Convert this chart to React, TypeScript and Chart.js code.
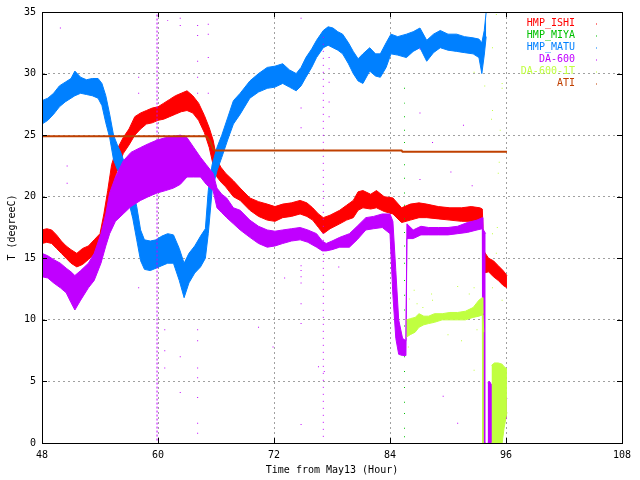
import { useEffect, useRef } from 'react'
import { Chart, registerables } from 'chart.js'

Chart.register(...registerables)

const seriesNames = ['HMP_ISHI', 'HMP_MIYA', 'HMP_MATU', 'DA-600', 'DA-600-1T', 'ATI']
const seriesColors = ['#ff0000', '#00c000', '#0080ff', '#c000ff', '#c0ff40', '#c04000']

const xTicks = [48, 60, 72, 84, 96, 108]
const yTicks = [0, 5, 10, 15, 20, 25, 30, 35]

// HMP_ISHI: noisy band, low / high edge per hour
const ishiHours = [48, 48.5, 49, 49.5, 50, 50.5, 51, 51.6, 52.2, 52.8, 53.4, 54, 54.4, 54.8, 55.2, 55.6, 56, 56.4, 57, 57.6, 58.2, 58.8, 59.4, 60, 60.6, 61.2, 61.8, 62.4, 63, 63.6, 64.2, 64.8, 65.3, 65.7, 66.1, 66.5, 67, 67.8, 68.5, 69.5, 70.4, 71.3, 72.1, 72.9, 73.8, 74.7, 75.4, 76, 76.6, 77.1, 77.8, 78.8, 79.5, 80.2, 80.7, 81.2, 82, 82.6, 83.4, 84.3, 85.2, 86.1, 87, 87.8, 89, 90.2, 91.4, 92.4, 93.3, 93.55, 93.7, 94.2, 94.7, 95.2, 95.7, 96.1]
const ishiLow = [16.2, 16.3, 16.2, 15.8, 15.4, 15.0, 14.6, 14.3, 14.5, 14.9, 15.3, 15.9, 17.0, 18.5, 20.3, 21.7, 22.6, 23.5, 24.2, 25.0, 25.5, 25.9, 26.0, 26.2, 26.3, 26.5, 26.7, 26.9, 27.0, 26.8, 26.2, 25.2, 24.0, 22.6, 21.6, 21.2, 20.8, 20.0, 19.7, 18.9, 18.4, 18.1, 18.0, 18.3, 18.4, 18.6, 18.4, 18.1, 17.5, 17.0, 17.4, 17.8, 18.1, 18.3, 18.9, 19.1, 19.0, 19.1, 18.8, 18.6, 17.9, 18.1, 18.3, 18.3, 18.2, 18.1, 18.0, 18.0, 17.9, 17.9, 13.8, 13.9, 13.5, 13.2, 12.8, 12.6]
const ishiHigh = [17.3, 17.4, 17.3, 16.9, 16.4, 16.0, 15.7, 15.4, 15.8, 16.0, 16.5, 17.0, 18.6, 20.5, 22.6, 23.6, 24.2, 24.8, 25.5, 26.5, 26.8, 27.0, 27.2, 27.3, 27.6, 27.9, 28.2, 28.4, 28.6, 28.2, 27.6, 26.6, 25.6, 24.6, 23.0, 22.4, 21.9, 21.3, 20.7, 19.9, 19.6, 19.4, 19.2, 19.4, 19.5, 19.7, 19.5, 19.1, 18.6, 18.3, 18.5, 18.9, 19.3, 19.7, 20.4, 20.5, 20.2, 20.5, 20.0, 19.9, 19.1, 19.4, 19.5, 19.4, 19.2, 19.1, 19.1, 19.2, 19.1, 19.0, 15.6, 15.0, 14.8, 14.4, 14.0, 13.6]

// HMP_MATU band
const matuHours = [48, 48.6, 49.2, 49.8, 50.4, 51, 51.4, 52, 52.6, 53.2, 53.8, 54.2, 54.6, 55, 55.4, 55.8, 56.2, 56.6, 57, 57.4, 57.8, 58.2, 58.6, 59.2, 59.8, 60.4, 61, 61.6, 62.2, 62.7, 63.2, 63.8, 64.4, 64.9, 65.2, 65.6, 66.1, 66.6, 67.2, 67.8, 68.5, 69.5, 70.4, 71.3, 72.1, 72.9, 73.6, 74.3, 74.8, 75.3, 75.9, 76.4, 77.1, 77.6, 78.1, 78.6, 79.1, 79.7, 80.2, 80.7, 81.2, 81.9, 82.5, 83, 83.6, 84.1, 84.8, 85.7, 86.4, 87.1, 87.8, 88.5, 89.2, 90, 90.9, 91.7, 92.6, 93.2, 93.5, 93.75, 93.95]
const matuLow = [25.9, 26.2, 26.7, 27.3, 27.7, 28.0, 28.2, 28.4, 28.3, 28.2, 28.0, 27.4, 26.0, 24.8, 23.0, 22.2, 21.6, 20.6, 19.5, 18.2, 16.5, 14.8, 14.1, 14.0, 14.2, 14.4, 14.6, 14.6, 13.2, 11.8, 13.0, 13.8, 14.3, 15.0, 17.0, 20.5, 22.1, 23.2, 24.6, 25.9, 26.7, 28.0, 28.5, 28.8, 28.9, 29.2, 28.9, 28.6, 29.0, 29.7, 30.5, 31.3, 32.1, 32.3, 32.1, 31.9, 31.6, 30.8, 30.0, 29.4, 29.2, 30.2, 29.8, 29.7, 30.5, 31.6, 31.5, 31.3, 31.8, 32.1, 31.0, 31.7, 32.1, 31.9, 31.8, 31.7, 31.6, 31.3, 30.0, 31.5, 33.0]
const matuHigh = [27.8, 28.0, 28.4, 29.0, 29.3, 29.6, 30.2, 29.7, 29.5, 29.6, 29.6, 29.2, 28.2, 26.7, 25.0, 24.2, 23.5, 22.6, 21.5, 20.6, 19.2, 17.3, 16.5, 16.4, 16.5, 16.8, 17.0, 16.9, 15.8, 14.6, 15.4, 16.0, 16.8, 17.4, 20.5, 22.6, 24.0, 25.0, 26.4, 27.8, 28.4, 29.4, 30.0, 30.5, 30.6, 30.8, 30.3, 30.0, 30.5, 31.3, 32.0, 32.7, 33.5, 33.8, 33.7, 33.4, 33.2, 32.5, 31.8, 31.2, 31.6, 32.1, 31.6, 31.6, 32.5, 33.2, 33.0, 33.2, 33.4, 33.7, 32.7, 33.2, 33.5, 33.2, 33.2, 33.0, 32.9, 32.8, 32.5, 33.5, 35.0]

// DA-600 band, up to the fall near hour 93.6
const da600Hours = [48, 48.6, 49.2, 49.9, 50.5, 51, 51.4, 52, 52.8, 53.4, 54.1, 54.6, 55, 55.6, 56.4, 57.2, 58.2, 59, 59.9, 60.8, 61.6, 62.3, 63, 63.7, 64.4, 65, 65.7, 66.1, 66.6, 67.1, 67.8, 68.5, 69.5, 70.4, 71.3, 72.1, 72.9, 73.8, 74.7, 75.5, 76.4, 77, 77.4, 78, 78.8, 79.8, 80.6, 81.5, 82.3, 83.2, 84, 84.3, 84.6, 84.9, 85.3, 85.65, 85.75, 86.4, 87.2, 88, 89, 90, 91, 92, 93, 93.55, 93.6, 93.9]
const da600Low = [13.5, 13.4, 13.0, 12.6, 12.2, 11.4, 10.8, 11.6, 12.6, 13.2, 14.6, 16.0, 17.0, 18.0, 18.6, 19.2, 19.7, 20.0, 20.3, 20.5, 20.7, 21.0, 21.6, 21.6, 21.6, 21.0, 20.5, 19.1, 18.7, 18.3, 17.8, 17.3, 16.7, 16.2, 15.9, 16.0, 16.2, 16.4, 16.5, 16.3, 15.9, 15.6, 15.6, 15.7, 15.9, 15.9, 16.5, 17.3, 17.4, 17.5, 17.0, 12.0, 8.5, 7.2, 7.1, 7.1, 16.6, 16.6, 16.9, 16.9, 16.9, 16.9, 17.0, 17.1, 17.3, 17.4, 0.0, 0.0]
const da600High = [15.4, 15.2, 14.9, 14.6, 14.2, 13.9, 13.6, 14.0, 14.6, 15.4, 17.0, 18.6, 20.3, 21.6, 22.9, 23.6, 24.0, 24.3, 24.6, 24.8, 24.9, 25.0, 24.8, 24.0, 23.2, 22.6, 21.9, 20.7, 20.2, 19.9, 19.1, 18.9, 18.1, 17.6, 17.3, 17.2, 17.3, 17.4, 17.5, 17.3, 17.0, 16.4, 16.2, 16.4, 16.7, 17.0, 17.6, 18.3, 18.4, 18.6, 18.6, 18.0, 14.0, 10.0, 8.5, 8.3, 17.8, 17.3, 17.6, 17.5, 17.5, 17.5, 17.6, 17.9, 18.1, 18.3, 17.4, 17.0]
// DA-600 low patches after the fall
const da600LateHours = [94.1, 94.3, 94.6]
const da600LateLow = [0.0, 0.0, 0.0]
const da600LateHigh = [4.9, 5.0, 4.6]
const da600EndHours = [95.6, 95.8, 96.1]
const da600EndLow = [1.9, 1.9, 2.0]
const da600EndHigh = [4.0, 4.0, 3.6]

// DA-600-1T band
const da1tHours = [85.7, 86.1, 86.6, 87, 87.5, 88, 88.6, 89.4, 90.2, 91, 91.8, 92.6, 93.2, 93.55, 93.6, 93.7]
const da1tLow = [8.6, 8.8, 9.0, 9.4, 9.6, 9.7, 9.8, 10.0, 10.0, 10.0, 10.0, 10.2, 10.3, 10.4, 0.0, 0.0]
const da1tHigh = [10.0, 10.1, 10.2, 10.5, 10.3, 10.3, 10.5, 10.5, 10.6, 10.6, 10.7, 11.0, 11.6, 11.8, 10.5, 9.0]
const da1tLateHours = [94.5, 94.8, 95.2, 95.6, 95.8, 96.1]
const da1tLateLow = [0.0, 0.0, 0.0, 0.0, 1.2, 2.5]
const da1tLateHigh = [6.3, 6.5, 6.5, 6.4, 6.2, 6.0]

// ATI
const atiHours = [48, 65.0, 65.4, 65.7, 65.9, 85.2, 85.3, 96.1]
const atiValues = [24.9, 24.9, 24.5, 23.9, 23.75, 23.75, 23.65, 23.65]

// HMP_MIYA only shows as a sparse dotted column
const miyaHour = 85.5
const miyaValues = [28.8, 27.6, 26.5, 25.4, 24.4, 22.6, 21.5, 20.3, 19.3, 18.2, 17.1, 16.0, 14.6, 13.2, 12.0, 10.8, 9.5, 8.2, 7.0, 5.8, 4.5, 3.3, 2.4, 1.2, 0.5]

// DA-600 stray points [hour, value]
const da600Stray = [
  [49.9, 33.7], [50.6, 22.5], [50.6, 21.1], [58.0, 29.7], [58.0, 28.4], [58.0, 12.6],
  [61.0, 34.3], [62.3, 34.5], [62.3, 33.9], [60.7, 9.2], [60.7, 7.5], [60.7, 6.1],
  [62.3, 7.0], [62.3, 4.1], [64.1, 33.9], [64.1, 33.1], [64.1, 31.0], [64.1, 29.7],
  [64.1, 28.4], [64.1, 9.2], [64.1, 8.3], [64.1, 6.1], [64.1, 5.3], [64.1, 3.7],
  [64.1, 1.6], [64.1, 0.8], [65.2, 34.0], [65.2, 33.2], [65.2, 31.3], [65.2, 28.4],
  [70.4, 9.4], [71.9, 7.8], [73.1, 13.4], [74.8, 34.5], [74.8, 27.2], [74.8, 25.6],
  [74.8, 14.4], [74.8, 14.0], [74.8, 13.5], [74.8, 13.0], [74.8, 11.3], [74.8, 9.7],
  [74.8, 1.5], [76.6, 6.2], [77.2, 5.8], [78.7, 14.3], [77.7, 31.3], [77.7, 30.4],
  [77.7, 29.3], [77.7, 27.7], [77.7, 26.5], [87.1, 32.0], [87.1, 26.8], [87.1, 21.4],
  [88.4, 24.4], [90.3, 22.0], [89.5, 3.8], [91.0, 1.6], [92.5, 20.9], [91.6, 25.8],
]
// dotted vertical streaks of DA-600 [hour, from, to]
const da600Streaks = [
  [59.9, 0.2, 34.9],
  [77.1, 0.5, 33.0],
]

// DA-600-1T stray points
const da1tStray = [
  [95.0, 34.8], [95.6, 29.2], [94.6, 27.0], [95.4, 25.4], [95.3, 22.8], [95.2, 21.9],
  [95.1, 17.5], [94.6, 17.0], [95.0, 15.4], [94.6, 12.6], [95.6, 11.6], [92.7, 12.6],
  [92.2, 12.1], [91.4, 8.3], [92.7, 5.9], [86.0, 11.7], [86.8, 11.3], [87.4, 11.0],
  [88.3, 12.1], [88.4, 11.6], [91.0, 12.7], [94.6, 32.1], [94.5, 26.3], [92.7, 30.1],
  [93.8, 29.0], [95.6, 28.8], [85.9, 7.8], [86.5, 12.4], [90.0, 8.8], [93.0, 9.2],
]

const FONT = '"DejaVu Sans Mono", monospace'

const pairs = (hours: number[], values: number[]) => hours.map((h, i) => ({ x: h, y: values[i] }))

const band = (label: string, hours: number[], low: number[], high: number[], color: string, order: number) => [
  { label, data: pairs(hours, low), borderColor: color, borderWidth: 1, pointRadius: 0, fill: false, order },
  { label, data: pairs(hours, high), borderColor: color, borderWidth: 1, pointRadius: 0, backgroundColor: color, fill: '-1', order },
]

const frame = {
  id: 'frame',
  afterDraw(chart: any) {
    const { ctx, chartArea: a, scales } = chart
    ctx.save()
    ctx.strokeStyle = '#000'
    ctx.lineWidth = 1
    ctx.beginPath()
    xTicks.forEach((t) => {
      const x = Math.round(scales.x.getPixelForValue(t)) + 0.5
      ctx.moveTo(x, a.bottom); ctx.lineTo(x, a.bottom - 5)
      ctx.moveTo(x, a.top); ctx.lineTo(x, a.top + 5)
    })
    yTicks.forEach((t) => {
      const y = Math.round(scales.y.getPixelForValue(t)) + 0.5
      ctx.moveTo(a.left, y); ctx.lineTo(a.left + 5, y)
      ctx.moveTo(a.right, y); ctx.lineTo(a.right - 5, y)
    })
    ctx.stroke()
    ctx.strokeRect(Math.round(a.left) + 0.5, Math.round(a.top) + 0.5, Math.round(a.right - a.left), Math.round(a.bottom - a.top))
    // key, top right
    ctx.font = '10px ' + FONT
    ctx.textAlign = 'right'
    ctx.textBaseline = 'middle'
    seriesNames.forEach((name, i) => {
      const y = a.top + 11.5 + i * 12
      ctx.fillStyle = seriesColors[i]
      ctx.fillText(name, a.right - 47, y)
      ctx.fillRect(a.right - 26, y, 1, 1)
    })
    ctx.restore()
  },
}

export default function App() {
  const chartRef = useRef<HTMLCanvasElement>(null)
  const chartInstance = useRef<Chart | null>(null)

  useEffect(() => {
    if (!chartRef.current) return
    if (chartInstance.current) chartInstance.current.destroy()
    const ctx = chartRef.current.getContext('2d')
    if (!ctx) return

    const [red, green, blue, purple, lime, brown] = seriesColors

    const datasets: any[] = [
      ...band('HMP_ISHI', ishiHours, ishiLow, ishiHigh, red, 6),
      {
        type: 'scatter', label: 'HMP_MIYA', data: miyaValues.map((v) => ({ x: miyaHour, y: v })),
        pointRadius: 0.7, pointStyle: 'rect', backgroundColor: green, borderWidth: 0, order: 5,
      },
      ...band('HMP_MATU', matuHours, matuLow, matuHigh, blue, 4),
      ...band('DA-600', da600Hours, da600Low, da600High, purple, 3),
      ...band('DA-600', da600LateHours, da600LateLow, da600LateHigh, purple, 3),
      ...band('DA-600', da600EndHours, da600EndLow, da600EndHigh, purple, 3),
      ...da600Streaks.map(([h, a, b]) => ({
        label: 'DA-600', data: [{ x: h, y: a }, { x: h, y: b }], borderColor: purple, borderWidth: 1,
        borderDash: h < 70 ? [2, 2] : [1, 6], pointRadius: 0, fill: false, order: 3,
      })),
      {
        type: 'scatter', label: 'DA-600', data: da600Stray.map(([x, y]) => ({ x, y })),
        pointRadius: 0.7, pointStyle: 'rect', backgroundColor: purple, borderWidth: 0, order: 3,
      },
      ...band('DA-600-1T', da1tHours, da1tLow, da1tHigh, lime, 2),
      ...band('DA-600-1T', da1tLateHours, da1tLateLow, da1tLateHigh, lime, 2),
      {
        type: 'scatter', label: 'DA-600-1T', data: da1tStray.map(([x, y]) => ({ x, y })),
        pointRadius: 0.7, pointStyle: 'rect', backgroundColor: lime, borderWidth: 0, order: 2,
      },
      { label: 'ATI', data: pairs(atiHours, atiValues), borderColor: brown, borderWidth: 2, pointRadius: 0, fill: false, order: 1 },
    ]

    chartInstance.current = new Chart(ctx, {
      type: 'line',
      data: { datasets },
      plugins: [frame],
      options: {
        responsive: false,
        animation: false,
        events: [],
        layout: { padding: { left: 0, right: 18, top: 11, bottom: 0 } },
        plugins: { legend: { display: false }, tooltip: { enabled: false } },
        scales: {
          x: {
            type: 'linear',
            min: 48,
            max: 108,
            afterFit: (s: any) => { s.height = 37 },
            afterBuildTicks: (s: any) => { s.ticks = xTicks.map((v) => ({ value: v })) },
            ticks: { color: '#000', font: { family: FONT, size: 10 }, padding: 6, maxRotation: 0 },
            grid: { color: '#a0a0a0', drawTicks: false },
            border: { display: true, color: '#000', dash: [2, 3] },
            title: { display: true, text: 'Time from May13 (Hour)', color: '#000', font: { family: FONT, size: 10 }, padding: { top: 0, bottom: 4 } },
          },
          y: {
            min: 0,
            max: 35,
            afterFit: (s: any) => { s.width = 42 },
            afterBuildTicks: (s: any) => { s.ticks = yTicks.map((v) => ({ value: v })) },
            ticks: { color: '#000', font: { family: FONT, size: 10 }, padding: 6 },
            grid: { color: '#a0a0a0', drawTicks: false },
            border: { display: true, color: '#000', dash: [2, 3] },
            title: { display: true, text: 'T (degreeC)', color: '#000', font: { family: FONT, size: 10 }, padding: { top: 6, bottom: 0 } },
          },
        },
      },
    })

    return () => {
      if (chartInstance.current) {
        chartInstance.current.destroy()
        chartInstance.current = null
      }
    }
  }, [])

  return (
    <div style={{ position: 'absolute', left: 0, top: 0, width: 640, height: 480, background: '#fff' }}>
      <canvas ref={chartRef} width={640} height={480}></canvas>
    </div>
  )
}
